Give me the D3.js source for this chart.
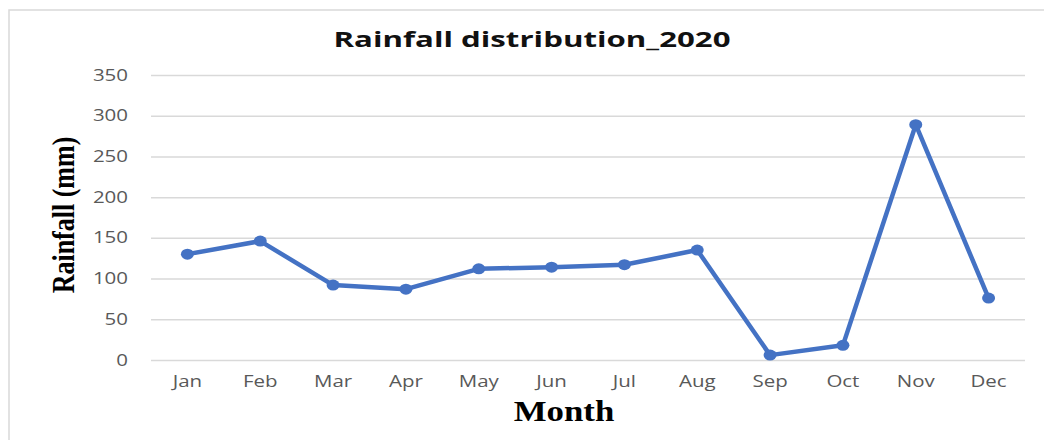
<!DOCTYPE html>
<html><head><meta charset="utf-8">
<script src="https://cdn.jsdelivr.net/npm/d3@7"></script>
<style>body{margin:0;background:#fff;} svg{display:block;}</style>
</head><body>
<svg id="chart" width="1044" height="440"></svg>
<script>
const months = ["Jan","Feb","Mar","Apr","May","Jun","Jul","Aug","Sep","Oct","Nov","Dec"];
const rainfall = [130,146,92,87,112,114,117,135,6,18,289,76];
const yTicks = [0,50,100,150,200,250,300,350];
const titleText = "Rainfall distribution_2020";
const xTitle = "Month";
const yTitle = "Rainfall (mm)";

const svg = d3.select("#chart");
const m = {left:151, right:1025, top:75, bottom:360};
const SX = 1.28; // horizontal stretch of the original picture

svg.append("rect").attr("x",9).attr("y",10).attr("width",1100).attr("height",500)
  .attr("fill","#fff").attr("stroke","#d9d9d9").attr("stroke-width",1.5);

const x = d3.scaleBand().domain(months).range([m.left,m.right]);
const y = d3.scaleLinear().domain([0,350]).range([m.bottom,m.top]);

// gridlines
const yAxis = d3.axisLeft(y).tickValues(yTicks).tickSize(-(m.right-m.left)).tickFormat("");
const gy = svg.append("g").attr("transform",`translate(${m.left},0)`).call(yAxis);
gy.select(".domain").remove();
gy.selectAll(".tick line").attr("stroke","#d9d9d9").attr("stroke-width",1.5);

// y tick labels
svg.append("g").selectAll("g").data(yTicks).join("g")
  .attr("transform",d=>`translate(128,${y(d)+5.5}) scale(${SX},1)`)
  .append("text").attr("text-anchor","end")
  .attr("font-family","'Open Sans',sans-serif").attr("font-size",16)
  .attr("fill","#595959").text(d=>d);

// x tick labels
svg.append("g").selectAll("g").data(months).join("g")
  .attr("transform",d=>`translate(${x(d)+x.bandwidth()/2},387) scale(${SX},1)`)
  .append("text").attr("text-anchor","middle")
  .attr("font-family","'Open Sans',sans-serif").attr("font-size",16)
  .attr("fill","#595959").text(d=>d);

// line
const line = d3.line().x((d,i)=>x(months[i])+x.bandwidth()/2).y(d=>y(d));
svg.append("path").datum(rainfall).attr("d",line).attr("fill","none")
  .attr("stroke","#4472C4").attr("stroke-width",4.5).attr("stroke-linejoin","round");
svg.append("g").selectAll("ellipse").data(rainfall).join("ellipse")
  .attr("cx",(d,i)=>x(months[i])+x.bandwidth()/2).attr("cy",d=>y(d))
  .attr("rx",6.5).attr("ry",5.5).attr("fill","#4472C4");

// title
svg.append("g").attr("transform",`translate(532,47) scale(1.42,1)`)
  .append("text").attr("text-anchor","middle")
  .attr("font-family","'Open Sans',sans-serif").attr("font-weight",700).attr("font-size",22)
  .attr("fill","#111").text(titleText);

// x title
svg.append("g").attr("transform",`translate(564,421) scale(1.2,1)`)
  .append("text").attr("text-anchor","middle")
  .attr("font-family","'Liberation Serif','Times New Roman',serif").attr("font-weight",700).attr("font-size",29)
  .attr("fill","#000").text(xTitle);

// y title
svg.append("g").attr("transform",`translate(74,215) scale(1.25,1) rotate(-90)`)
  .append("text").attr("text-anchor","middle")
  .attr("font-family","'Liberation Serif','Times New Roman',serif").attr("font-weight",700).attr("font-size",26)
  .attr("fill","#000").text(yTitle);
</script>
</body></html>
